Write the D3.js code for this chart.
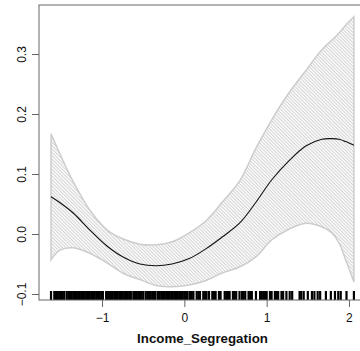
<!DOCTYPE html>
<html>
<head>
<meta charset="utf-8">
<script src="https://cdn.jsdelivr.net/npm/d3@7"></script>
<style>
  body { margin: 0; background: #fff; }
  text { font-family: "Liberation Sans", Arial, sans-serif; fill: #111; }
</style>
</head>
<body>
<svg class="gamPlot" width="360" height="351"></svg>
<script>
// smooth term for Income_Segregation
var xVals = [-1.62, -1.51, -1.35, -1.15, -0.94, -0.75, -0.54, -0.34, -0.15, 0.06, 0.27,
             0.46, 0.67, 0.87, 1.06, 1.27, 1.48, 1.67, 1.79, 1.88, 1.96, 2.06];
var fitVals = [0.062, 0.052, 0.035, 0.007, -0.020, -0.038, -0.050, -0.053, -0.050, -0.041, -0.024,
               -0.005, 0.018, 0.053, 0.090, 0.122, 0.147, 0.158, 0.159, 0.158, 0.154, 0.148];
var upperVals = [0.167, 0.133, 0.087, 0.040, 0.007, -0.008, -0.017, -0.018, -0.013, 0.002, 0.023,
                 0.053, 0.088, 0.143, 0.190, 0.235, 0.273, 0.307, 0.323, 0.335, 0.348, 0.362];
var lowerVals = [-0.043, -0.027, -0.023, -0.032, -0.048, -0.065, -0.076, -0.086, -0.088, -0.085, -0.077,
                 -0.065, -0.055, -0.038, -0.010, 0.008, 0.018, 0.012, 0.002, -0.015, -0.043, -0.080];

// observed values shown as a rug
var rugVals = [-1.62, -1.58, -1.56, -1.54, -1.52, -1.50, -1.48, -1.46, -1.43, -1.41, -1.39, -1.37,
  -1.35, -1.33, -1.31, -1.29, -1.27, -1.25, -1.23, -1.21, -1.19, -1.17, -1.15, -1.13, -1.11, -1.09,
  -1.07, -1.05, -1.03, -1.01, -0.99, -0.95, -0.93, -0.91, -0.89, -0.87, -0.85, -0.83, -0.81, -0.79,
  -0.77, -0.75, -0.73, -0.71, -0.69, -0.67, -0.65, -0.62, -0.60, -0.58, -0.56, -0.54, -0.52, -0.50,
  -0.47, -0.45, -0.43, -0.41, -0.39, -0.37, -0.35, -0.32, -0.30, -0.28, -0.26, -0.24, -0.22, -0.20,
  -0.18, -0.16, -0.14, -0.12, -0.10, -0.08, -0.06, -0.04, -0.02, 0.00, 0.02, 0.04, 0.07, 0.09, 0.11,
  0.15, 0.17, 0.19, 0.23, 0.25, 0.27, 0.30, 0.34, 0.36, 0.38, 0.42, 0.44, 0.49, 0.51, 0.53, 0.55,
  0.59, 0.61, 0.63, 0.67, 0.70, 0.72, 0.74, 0.78, 0.80, 0.82, 0.87, 0.92, 0.94, 0.96, 0.98, 1.00,
  1.04, 1.06, 1.10, 1.12, 1.14, 1.18, 1.20, 1.24, 1.28, 1.31, 1.40, 1.42, 1.45, 1.50, 1.55, 1.58,
  1.62, 1.65, 1.72, 1.78, 1.83, 1.87, 1.90, 1.97, 2.06];

var xTicks = [-1, 0, 1, 2];
var yTicks = [-0.1, 0.0, 0.1, 0.2, 0.3];
var xLabel = "Income_Segregation";

var svg = d3.select("svg.gamPlot");
var box = {left: 39, top: 5, right: 366, bottom: 300};

var x = d3.scaleLinear().domain([-1.766, 2.207]).range([box.left, box.right]);
var y = d3.scaleLinear().domain([-0.110, 0.3817]).range([box.bottom, box.top]);

var rows = xVals.map(function(d, i) {
  return {x: d, fit: fitVals[i], lo: lowerVals[i], hi: upperVals[i]};
});

var defs = svg.append("defs");
defs.append("clipPath").attr("id", "plotClip")
  .append("rect")
  .attr("x", box.left).attr("y", box.top)
  .attr("width", box.right - box.left).attr("height", box.bottom - box.top);

var hatch = defs.append("pattern")
  .attr("id", "hatch")
  .attr("patternUnits", "userSpaceOnUse")
  .attr("width", 2.4).attr("height", 10)
  .attr("patternTransform", "rotate(-45)");
hatch.append("line")
  .attr("x1", 1).attr("y1", 0).attr("x2", 1).attr("y2", 10)
  .attr("stroke", "#b4b4b4").attr("stroke-width", 0.7);

var plot = svg.append("g").attr("clip-path", "url(#plotClip)");

// confidence band
var band = d3.area()
  .x(function(d) { return x(d.x); })
  .y0(function(d) { return y(d.lo); })
  .y1(function(d) { return y(d.hi); })
  .curve(d3.curveCatmullRom.alpha(0.5));

plot.append("path")
  .datum(rows)
  .attr("d", band)
  .attr("fill", "url(#hatch)")
  .attr("stroke", "#cdcdcd")
  .attr("stroke-width", 1.5);

// fitted smooth
var fitLine = d3.line()
  .x(function(d) { return x(d.x); })
  .y(function(d) { return y(d.fit); })
  .curve(d3.curveCatmullRom.alpha(0.5));

plot.append("path")
  .datum(rows)
  .attr("d", fitLine)
  .attr("fill", "none")
  .attr("stroke", "#111")
  .attr("stroke-width", 1.1);

// rug
plot.append("g")
  .selectAll("line")
  .data(rugVals)
  .enter().append("line")
  .attr("x1", function(d) { return x(d); })
  .attr("x2", function(d) { return x(d); })
  .attr("y1", box.bottom)
  .attr("y2", box.bottom - 9)
  .attr("stroke", "#000")
  .attr("stroke-width", 2.2);

// frame
svg.append("rect")
  .attr("x", box.left).attr("y", box.top)
  .attr("width", box.right - box.left).attr("height", box.bottom - box.top)
  .attr("fill", "none").attr("stroke", "#666").attr("stroke-width", 1);

// axes, R style
var xAxis = svg.append("g")
  .attr("transform", "translate(0," + box.bottom + ")")
  .call(d3.axisBottom(x).tickValues(xTicks).tickSize(7).tickPadding(6)
    .tickFormat(function(d) { return d < 0 ? "\u2212" + Math.abs(d) : d; }));
xAxis.select(".domain").remove();
xAxis.selectAll("line").attr("stroke", "#666");
xAxis.selectAll("text").attr("font-size", 12).attr("fill", "#111")
  .style("font-family", "'Liberation Sans', Arial, sans-serif");

var yAxis = svg.append("g")
  .attr("transform", "translate(" + box.left + ",0)")
  .call(d3.axisLeft(y).tickValues(yTicks).tickSize(7).tickFormat(function(d) {
    var s = d3.format(".1f")(d);
    return s.replace("-", "\u2212");
  }));
yAxis.select(".domain").remove();
yAxis.selectAll("line").attr("stroke", "#666");
yAxis.selectAll("text")
  .attr("font-size", 12).attr("fill", "#111")
  .style("font-family", "'Liberation Sans', Arial, sans-serif")
  .attr("text-anchor", "middle")
  .attr("x", null).attr("dy", null)
  .attr("transform", "translate(-13,0) rotate(-90)");

svg.append("text")
  .attr("x", (box.left + box.right) / 2)
  .attr("y", 343)
  .attr("text-anchor", "middle")
  .attr("font-size", 13.3)
  .attr("font-weight", "bold")
  .text(xLabel);
</script>
</body>
</html>
